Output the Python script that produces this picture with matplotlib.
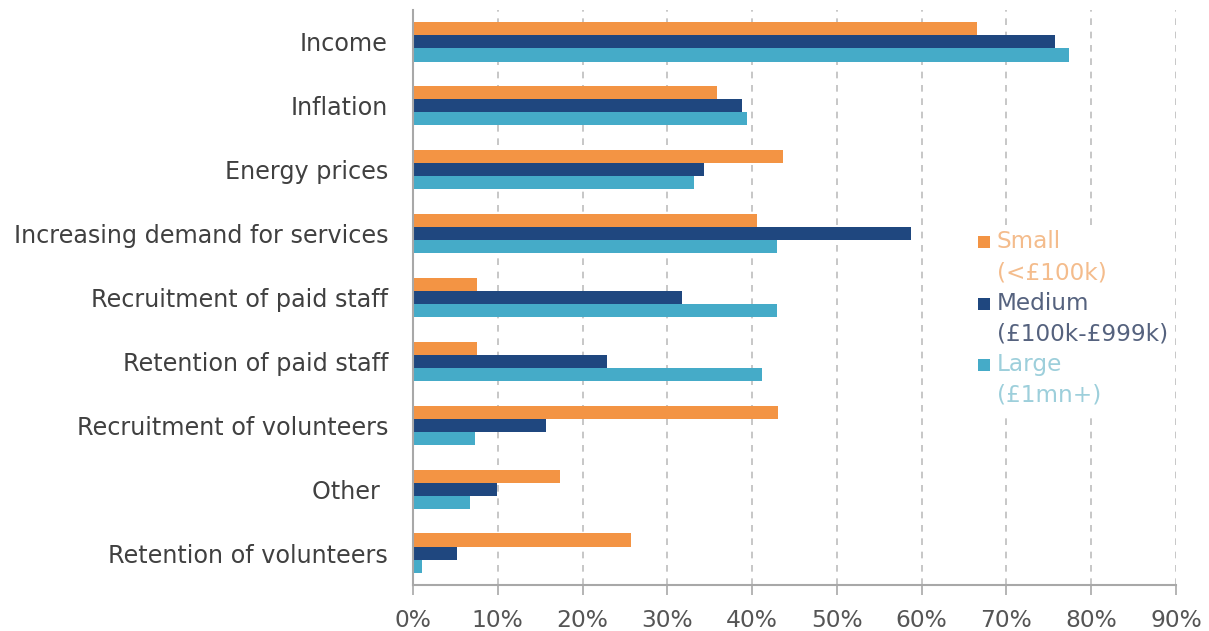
import matplotlib
matplotlib.use("Agg")
import matplotlib.pyplot as plt
import numpy as np
from matplotlib.patches import Rectangle

# Pressures reported, share of organisations by size band
categories = [
    "Income",
    "Inflation",
    "Energy prices",
    "Increasing demand for services",
    "Recruitment of paid staff",
    "Retention of paid staff",
    "Recruitment of volunteers",
    "Other ",
    "Retention of volunteers",
]
small = [66.5, 35.8, 43.6, 40.6, 7.6, 7.6, 43.0, 17.3, 25.7]
medium = [75.7, 38.8, 34.3, 58.8, 31.7, 22.9, 15.7, 9.9, 5.2]
large = [77.4, 39.4, 33.1, 42.9, 42.9, 41.2, 7.3, 6.7, 1.1]

series_names = ["Small", "Medium", "Large"]
series_ranges = ["(<£100k)", "(£100k-£999k)", "(£1mn+)"]
xticks = [0, 10, 20, 30, 40, 50, 60, 70, 80, 90]
xtick_labels = [f"{t}%" for t in xticks]

bar_colors = ["#F39444", "#1F477F", "#45ABC8"]
legend_text_colors = ["#F4BC8C", "#55627E", "#9DCFDB"]

plt.rcParams["font.family"] = ["DejaVu Sans"]

fig = plt.figure(figsize=(12.09, 6.31), dpi=100)
ax = fig.add_axes([413 / 1209, 1 - 585 / 631, (1176 - 413) / 1209, (585 - 10) / 631])

y = np.arange(len(categories))
h = 0.205
for k, vals in enumerate([small, medium, large]):
    ax.barh(y + (k - 1) * h, vals, height=h, color=bar_colors[k],
            edgecolor="none", zorder=2)

ax.set_ylim(len(categories) - 0.5, -0.5)
ax.set_xlim(0, 90)
ax.set_yticks(y)
ax.set_yticklabels(categories, fontsize=17.2, color="#404040")
ax.set_xticks(xticks)
ax.set_xticklabels(xtick_labels, fontsize=16.8, color="#555555")

ax.tick_params(axis="y", length=0, pad=18)
ax.tick_params(axis="x", length=7, width=1.2, color="#A8A8A8", pad=10, direction="out")

for side in ["top", "right"]:
    ax.spines[side].set_visible(False)
ax.spines["left"].set_color("#A8A8A8")
ax.spines["left"].set_linewidth(1.5)
ax.spines["bottom"].set_color("#A8A8A8")
ax.spines["bottom"].set_linewidth(1.5)

ax.set_axisbelow(True)
ax.xaxis.grid(True, linestyle=(0, (4, 4)), color="#BDBDBD", linewidth=1.2)

# Legend: white panel over the grid, square swatches and two-line labels
px_to_ax_x = lambda px: (px - 413) / (1176 - 413)
px_to_ax_y = lambda py: (585 - py) / (585 - 10)
ax.add_patch(Rectangle((px_to_ax_x(965), px_to_ax_y(415)),
                       px_to_ax_x(1170) - px_to_ax_x(965),
                       px_to_ax_y(225) - px_to_ax_y(415),
                       transform=ax.transAxes, facecolor="white",
                       edgecolor="none", zorder=3))
for k, (name, rng) in enumerate(zip(series_names, series_ranges)):
    top_line = 242 + k * 61.5
    ax.add_patch(Rectangle((px_to_ax_x(978), px_to_ax_y(top_line + 6)),
                           px_to_ax_x(990) - px_to_ax_x(978),
                           px_to_ax_y(top_line - 6) - px_to_ax_y(top_line + 6),
                           transform=ax.transAxes, facecolor=bar_colors[k],
                           edgecolor="none", zorder=4))
    ax.text(px_to_ax_x(997), px_to_ax_y(top_line), name, transform=ax.transAxes,
            fontsize=16.7, color=legend_text_colors[k], va="center", ha="left", zorder=5)
    ax.text(px_to_ax_x(997), px_to_ax_y(top_line + 30.5), rng, transform=ax.transAxes,
            fontsize=16.7, color=legend_text_colors[k], va="center", ha="left", zorder=5)

fig.savefig("out.png", dpi=100, facecolor="white")
